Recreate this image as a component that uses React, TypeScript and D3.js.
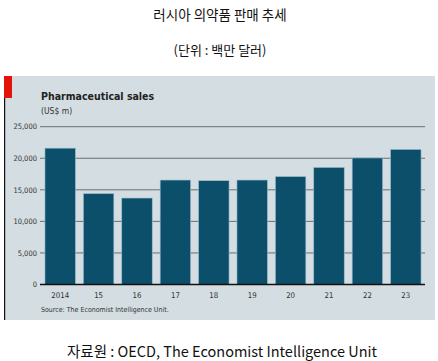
import React from "react";
import * as d3 from "d3";

const years = ["2014", "15", "16", "17", "18", "19", "20", "21", "22", "23"];
const sales = [21600, 14400, 13700, 16550, 16450, 16550, 17100, 18550, 20050, 21400];
const yTicks = [0, 5000, 10000, 15000, 20000, 25000];

const W = 438;
const H = 361;

export default function App() {
  const x = d3.scaleBand<string>().domain(years).range([41, 425]).paddingInner(0.206).paddingOuter(0.103);
  const y = d3.scaleLinear().domain([0, 25000]).range([284.5, 126.7]);
  const fmt = d3.format(",");
  const condensed = "'DejaVu Sans Condensed', 'Roboto', sans-serif";
  return (
    <svg width={W} height={H} style={{ position: "absolute", left: 0, top: 0 }}>
      <rect x={0} y={0} width={W} height={H} fill="#ffffff" />
      <text x={220} y={20} textAnchor="middle" fontFamily="'Noto Sans CJK KR', sans-serif" fontSize={13.5} fill="#111">러시아 의약품 판매 추세</text>
      <text x={220} y={55} textAnchor="middle" fontFamily="'Noto Sans CJK KR', sans-serif" fontSize={13} fill="#111">(단위 : 백만 달러)</text>

      <rect x={4} y={76} width={431} height={244} fill="#d4dde1" />
      <rect x={4} y={76} width={1.2} height={244} fill="#111" />
      <rect x={4} y={76} width={8} height={22} fill="#e3120b" />
      <text x={41} y={100} fontFamily={condensed} fontWeight="bold" fontSize={10.5} fill="#222">Pharmaceutical sales</text>
      <text x={41} y={114} fontFamily={condensed} fontSize={8.5} fill="#333">(US$ m)</text>

      {yTicks.map((t) => (
        <g key={t}>
          {t > 0 && <line x1={40} x2={425} y1={y(t)} y2={y(t)} stroke="#6a6f72" strokeWidth={1} />}
          <text x={37} y={y(t) + 2.7} textAnchor="end" fontFamily={condensed} fontSize={7.5} fill="#333">{fmt(t)}</text>
        </g>
      ))}

      {years.map((yr, i) => (
        <rect
          key={yr}
          x={x(yr)!}
          y={y(sales[i])}
          width={x.bandwidth()}
          height={y(0) - y(sales[i])}
          fill="#0b4f6b"
          stroke="#9cc0d0"
          strokeWidth={0.6}
        />
      ))}
      <line x1={40} x2={425} y1={y(0)} y2={y(0)} stroke="#111" strokeWidth={1.4} />

      {years.map((yr) => (
        <text key={yr} x={x(yr)! + x.bandwidth() / 2} y={298} textAnchor="middle" fontFamily={condensed} fontSize={7.8} fill="#333">{yr}</text>
      ))}
      <text x={41} y={312} fontFamily={condensed} fontSize={7} fill="#333">Source: The Economist Intelligence Unit.</text>

      <text x={222} y={357} textAnchor="middle" fontFamily="'Noto Sans CJK KR', sans-serif" fontSize={14.5} fill="#111">자료원 : OECD, The Economist Intelligence Unit</text>
    </svg>
  );
}
